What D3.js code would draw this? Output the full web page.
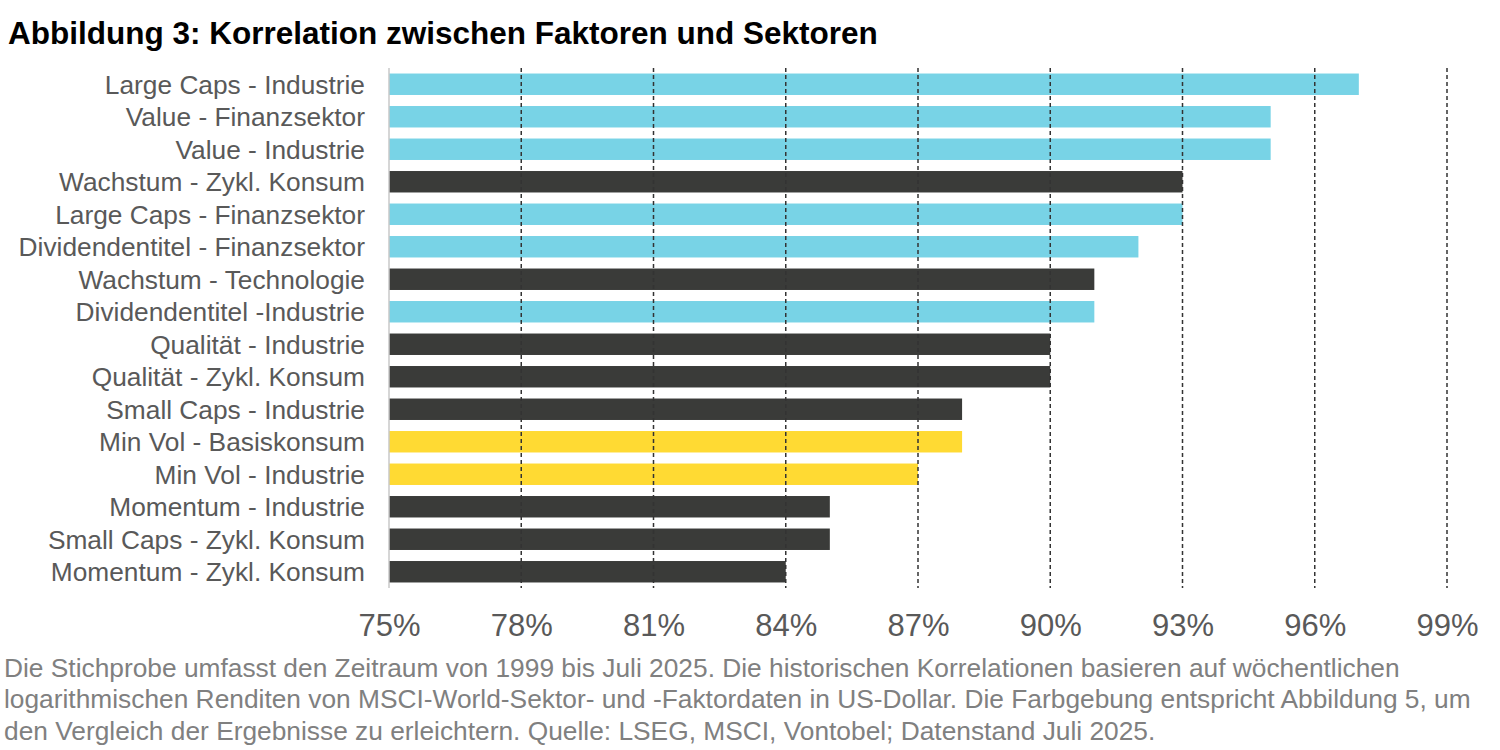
<!DOCTYPE html>
<html>
<head>
<meta charset="utf-8">
<script src="https://cdn.jsdelivr.net/npm/d3@7"></script>
<style>
  body { margin: 0; background: #fff; }
  svg { display: block; font-family: Arial, 'Liberation Sans', sans-serif; }
</style>
</head>
<body>
<div id="chart"></div>
<script>
// Chart data
const categories = [
  'Large Caps - Industrie',
  'Value - Finanzsektor',
  'Value - Industrie',
  'Wachstum - Zykl. Konsum',
  'Large Caps - Finanzsektor',
  'Dividendentitel - Finanzsektor',
  'Wachstum - Technologie',
  'Dividendentitel -Industrie',
  'Qualität - Industrie',
  'Qualität - Zykl. Konsum',
  'Small Caps - Industrie',
  'Min Vol - Basiskonsum',
  'Min Vol - Industrie',
  'Momentum - Industrie',
  'Small Caps - Zykl. Konsum',
  'Momentum - Zykl. Konsum'
];
const values = [97, 95, 95, 93, 93, 92, 91, 91, 90, 90, 88, 88, 87, 85, 85, 84];
const groups = ['blau', 'blau', 'blau', 'dunkel', 'blau', 'blau', 'dunkel', 'blau',
  'dunkel', 'dunkel', 'dunkel', 'gelb', 'gelb', 'dunkel', 'dunkel', 'dunkel'];
const tickValues = [75, 78, 81, 84, 87, 90, 93, 96, 99];

const title = 'Abbildung 3: Korrelation zwischen Faktoren und Sektoren';
const footnoteLines = [
  'Die Stichprobe umfasst den Zeitraum von 1999 bis Juli 2025. Die historischen Korrelationen basieren auf wöchentlichen',
  'logarithmischen Renditen von MSCI-World-Sektor- und -Faktordaten in US-Dollar. Die Farbgebung entspricht Abbildung 5, um',
  'den Vergleich der Ergebnisse zu erleichtern. Quelle: LSEG, MSCI, Vontobel; Datenstand Juli 2025.'
];

// Graph setup
const width = 1500;
const height = 750;
const margin = { top: 68, right: 53, bottom: 162, left: 389 };

const svg = d3.select('#chart')
  .append('svg')
  .attr('width', width)
  .attr('height', height);

const color = d3.scaleOrdinal()
  .domain(['blau', 'dunkel', 'gelb'])
  .range(['#78d3e6', '#3a3b39', '#ffda33']);

const x = d3.scaleLinear()
  .domain([75, 99])
  .range([margin.left, width - margin.right]);

const y = d3.scaleBand()
  .domain(categories)
  .range([margin.top, height - margin.bottom])
  .paddingInner(0.34)
  .paddingOuter(0.17);

const rows = categories.map((name, i) => ({ name, value: values[i], group: groups[i] }));

// Title
svg.append('text')
  .attr('x', 8)
  .attr('y', 44)
  .style('font-size', '31.5px')
  .style('font-weight', 'bold')
  .style('fill', '#000')
  .text(title);

// Bars
svg.selectAll('.bar')
  .data(rows)
  .enter()
  .append('rect')
  .attr('class', 'bar')
  .attr('x', x(75))
  .attr('y', d => y(d.name))
  .attr('width', d => x(d.value) - x(75))
  .attr('height', y.bandwidth())
  .style('fill', d => color(d.group));

// Dashed gridlines on top of bars
svg.selectAll('.grid')
  .data(tickValues.slice(1))
  .enter()
  .append('line')
  .attr('class', 'grid')
  .attr('x1', d => x(d))
  .attr('x2', d => x(d))
  .attr('y1', margin.top)
  .attr('y2', height - margin.bottom)
  .style('stroke', '#333')
  .style('stroke-width', 1.5)
  .style('stroke-dasharray', '4,3');

// Vertical axis line at 75%
svg.append('line')
  .attr('x1', x(75))
  .attr('x2', x(75))
  .attr('y1', margin.top)
  .attr('y2', height - margin.bottom)
  .style('stroke', '#c8c8c8')
  .style('stroke-width', 1.5);

// Category labels
const yAxis = svg.append('g')
  .attr('transform', `translate(${x(75) - 24},0)`)
  .call(d3.axisLeft(y).tickSize(0).tickPadding(0));
yAxis.select('.domain').remove();
yAxis.selectAll('text')
  .style('font-size', '26.3px')
  .style('fill', '#595959')
  .attr('dy', '0.36em');

// Percentage ticks
const xAxis = svg.append('g')
  .attr('transform', `translate(0,${height - margin.bottom})`)
  .call(d3.axisBottom(x).tickValues(tickValues).tickSize(0).tickPadding(0)
    .tickFormat(d => d + '%'));
xAxis.select('.domain').remove();
xAxis.selectAll('text')
  .attr('y', 48)
  .attr('dy', 0)
  .style('font-size', '31px')
  .style('fill', '#595959');

// Footnote: condensed text, same horizontal squeeze on every line
const footnote = svg.append('g');
footnote.selectAll('.footnote')
  .data(footnoteLines)
  .enter()
  .append('text')
  .attr('class', 'footnote')
  .attr('x', 0)
  .attr('y', (d, i) => 677 + i * 31.5)
  .style('font-size', '26px')
  .style('fill', '#808080')
  .text(d => d);
const secondLine = footnote.selectAll('.footnote').nodes()[1];
const squeeze = 1467 / secondLine.getComputedTextLength();
footnote.attr('transform', `translate(4,0) scale(${squeeze},1)`);
</script>
</body>
</html>
